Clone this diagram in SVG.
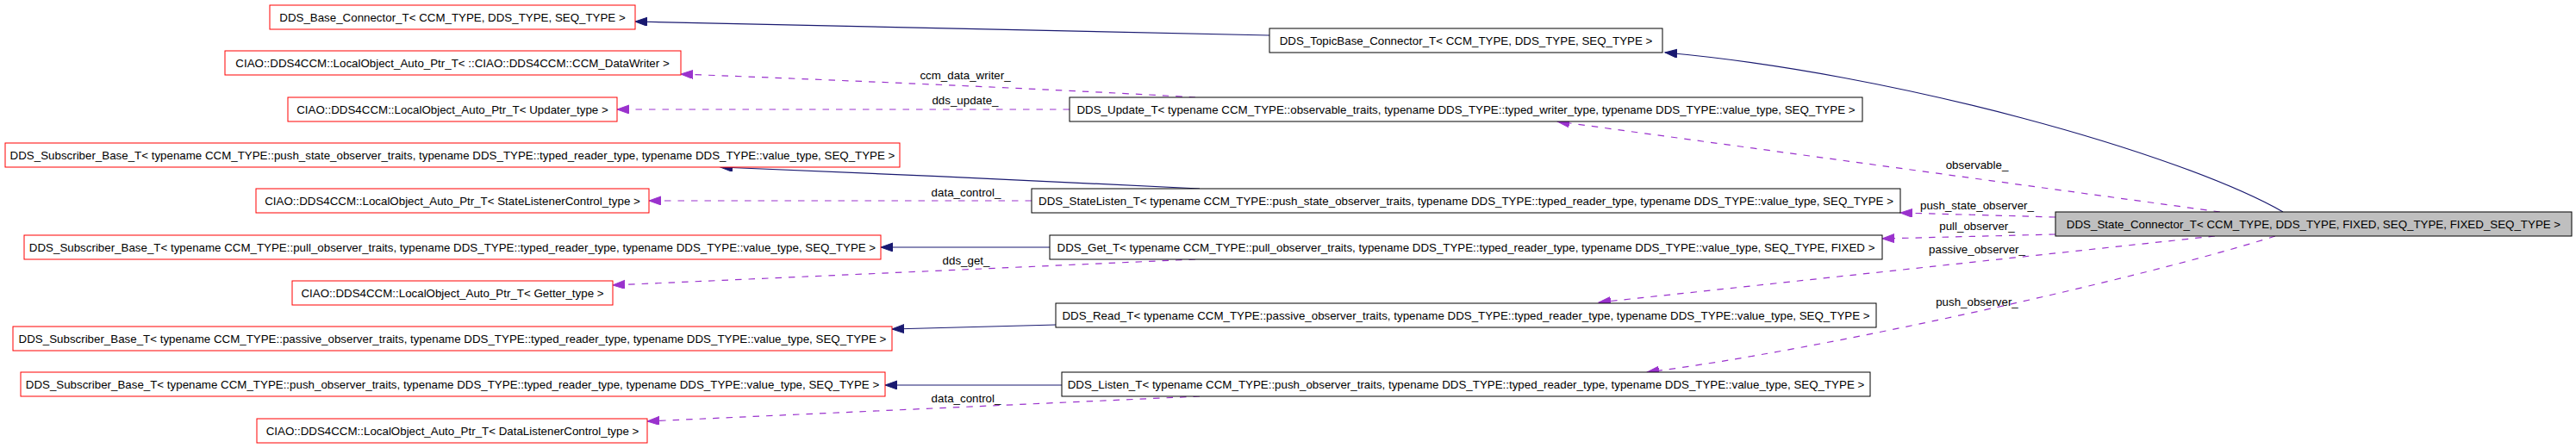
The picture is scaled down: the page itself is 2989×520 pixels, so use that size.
<svg xmlns="http://www.w3.org/2000/svg" width="2989" height="520" viewBox="0 0 2989 520">
<style>
text{font-family:"Liberation Sans",Arial,Helvetica,sans-serif;font-size:13.33px;fill:#000;text-anchor:middle}
.red rect{fill:#fff;stroke:#ff0000;stroke-width:1}
.blk rect{fill:#fff;stroke:#000;stroke-width:1}
.cur rect{fill:#bfbfbf;stroke:#000;stroke-width:1}
.inh{fill:none;stroke:#191970;stroke-width:1.2;marker-end:url(#an)}
.use{fill:none;stroke:#9a32cd;stroke-width:1.2;stroke-dasharray:7.5,8;marker-end:url(#ap)}
</style>
<defs>
<marker id="an" markerUnits="userSpaceOnUse" markerWidth="16" markerHeight="12" refX="14" refY="5" orient="auto"><path d="M0,0 L14,5 L0,10 z" fill="#191970" stroke="#191970" stroke-width="1"/></marker>
<marker id="ap" markerUnits="userSpaceOnUse" markerWidth="16" markerHeight="12" refX="14" refY="5" orient="auto"><path d="M0,0 L14,5 L0,10 z" fill="#9a32cd" stroke="#9a32cd" stroke-width="1"/></marker>
</defs>
<rect width="2989" height="520" fill="#fff"/>
<g id="edges">
<path class="inh" d="M1473,41 L737,25"/>
<path class="inh" d="M2649,246 C2530,178 2200,85 1932,61"/>
<path class="use" d="M1387,113 C1250,105 1000,94 790,86"/>
<path class="use" d="M1241,127 L716,127"/>
<path class="inh" d="M1392,219 C1250,212 1000,200 836,194"/>
<path class="use" d="M1197,233 L753,233"/>
<path class="inh" d="M1218,287 L1022,287"/>
<path class="use" d="M1387,301 L711,331"/>
<path class="inh" d="M1225,377 L1035,382"/>
<path class="inh" d="M1232,447 L1027,447"/>
<path class="use" d="M1392,460 L751,489"/>
<path class="use" d="M2576,246 L1807,141"/>
<path class="use" d="M2385,252 L2205,247"/>
<path class="use" d="M2385,272 L2184,277"/>
<path class="use" d="M2570,274 L1855,351"/>
<path class="use" d="M2640,274 C2490,322 2111,407 1911,432"/>
<text x="1120" y="92">ccm_data_writer_</text>
<text x="1120" y="121">dds_update_</text>
<text x="1121" y="228">data_control_</text>
<text x="1121" y="307">dds_get_</text>
<text x="1121" y="467">data_control_</text>
<text x="2294" y="196">observable_</text>
<text x="2294" y="243">push_state_observer_</text>
<text x="2294" y="267">pull_observer_</text>
<text x="2294" y="294">passive_observer_</text>
<text x="2294" y="355">push_observer_</text>
</g>
<g id="n_base" class="red"><rect x="313" y="6" width="424" height="28"/><text x="525" y="24.5">DDS_Base_Connector_T&lt; CCM_TYPE, DDS_TYPE, SEQ_TYPE &gt;</text></g>
<g id="n_writer" class="red"><rect x="261" y="59" width="529" height="28"/><text x="525" y="77.5">CIAO::DDS4CCM::LocalObject_Auto_Ptr_T&lt; ::CIAO::DDS4CCM::CCM_DataWriter &gt;</text></g>
<g id="n_updater" class="red"><rect x="334" y="113" width="382" height="28"/><text x="525" y="131.5">CIAO::DDS4CCM::LocalObject_Auto_Ptr_T&lt; Updater_type &gt;</text></g>
<g id="n_sub_pushstate" class="red"><rect x="6" y="166" width="1038" height="28"/><text x="525" y="184.5">DDS_Subscriber_Base_T&lt; typename CCM_TYPE::push_state_observer_traits, typename DDS_TYPE::typed_reader_type, typename DDS_TYPE::value_type, SEQ_TYPE &gt;</text></g>
<g id="n_slc" class="red"><rect x="297" y="219" width="456" height="28"/><text x="525" y="237.5">CIAO::DDS4CCM::LocalObject_Auto_Ptr_T&lt; StateListenerControl_type &gt;</text></g>
<g id="n_sub_pull" class="red"><rect x="28" y="273" width="994" height="28"/><text x="525" y="291.5">DDS_Subscriber_Base_T&lt; typename CCM_TYPE::pull_observer_traits, typename DDS_TYPE::typed_reader_type, typename DDS_TYPE::value_type, SEQ_TYPE &gt;</text></g>
<g id="n_getter" class="red"><rect x="339" y="326" width="372" height="28"/><text x="525" y="344.5">CIAO::DDS4CCM::LocalObject_Auto_Ptr_T&lt; Getter_type &gt;</text></g>
<g id="n_sub_passive" class="red"><rect x="15" y="379" width="1020" height="28"/><text x="525" y="397.5">DDS_Subscriber_Base_T&lt; typename CCM_TYPE::passive_observer_traits, typename DDS_TYPE::typed_reader_type, typename DDS_TYPE::value_type, SEQ_TYPE &gt;</text></g>
<g id="n_sub_push" class="red"><rect x="24" y="432" width="1003" height="28"/><text x="525" y="450.5">DDS_Subscriber_Base_T&lt; typename CCM_TYPE::push_observer_traits, typename DDS_TYPE::typed_reader_type, typename DDS_TYPE::value_type, SEQ_TYPE &gt;</text></g>
<g id="n_dlc" class="red"><rect x="298" y="486" width="453" height="28"/><text x="525" y="504.5">CIAO::DDS4CCM::LocalObject_Auto_Ptr_T&lt; DataListenerControl_type &gt;</text></g>
<g id="n_topicbase" class="blk"><rect x="1473" y="33" width="456" height="28"/><text x="1701" y="51.5">DDS_TopicBase_Connector_T&lt; CCM_TYPE, DDS_TYPE, SEQ_TYPE &gt;</text></g>
<g id="n_update" class="blk"><rect x="1241" y="113" width="920" height="28"/><text x="1701" y="131.5">DDS_Update_T&lt; typename CCM_TYPE::observable_traits, typename DDS_TYPE::typed_writer_type, typename DDS_TYPE::value_type, SEQ_TYPE &gt;</text></g>
<g id="n_statelisten" class="blk"><rect x="1197" y="219" width="1008" height="28"/><text x="1701" y="237.5">DDS_StateListen_T&lt; typename CCM_TYPE::push_state_observer_traits, typename DDS_TYPE::typed_reader_type, typename DDS_TYPE::value_type, SEQ_TYPE &gt;</text></g>
<g id="n_get" class="blk"><rect x="1218" y="273" width="966" height="28"/><text x="1701" y="291.5">DDS_Get_T&lt; typename CCM_TYPE::pull_observer_traits, typename DDS_TYPE::typed_reader_type, typename DDS_TYPE::value_type, SEQ_TYPE, FIXED &gt;</text></g>
<g id="n_read" class="blk"><rect x="1225" y="352" width="952" height="28"/><text x="1701" y="370.5">DDS_Read_T&lt; typename CCM_TYPE::passive_observer_traits, typename DDS_TYPE::typed_reader_type, typename DDS_TYPE::value_type, SEQ_TYPE &gt;</text></g>
<g id="n_listen" class="blk"><rect x="1232" y="432" width="938" height="28"/><text x="1701" y="450.5">DDS_Listen_T&lt; typename CCM_TYPE::push_observer_traits, typename DDS_TYPE::typed_reader_type, typename DDS_TYPE::value_type, SEQ_TYPE &gt;</text></g>
<g id="n_state" class="cur"><rect x="2385" y="246" width="599" height="28"/><text x="2684.5" y="264.5">DDS_State_Connector_T&lt; CCM_TYPE, DDS_TYPE, FIXED, SEQ_TYPE, FIXED_SEQ_TYPE &gt;</text></g>
</svg>
